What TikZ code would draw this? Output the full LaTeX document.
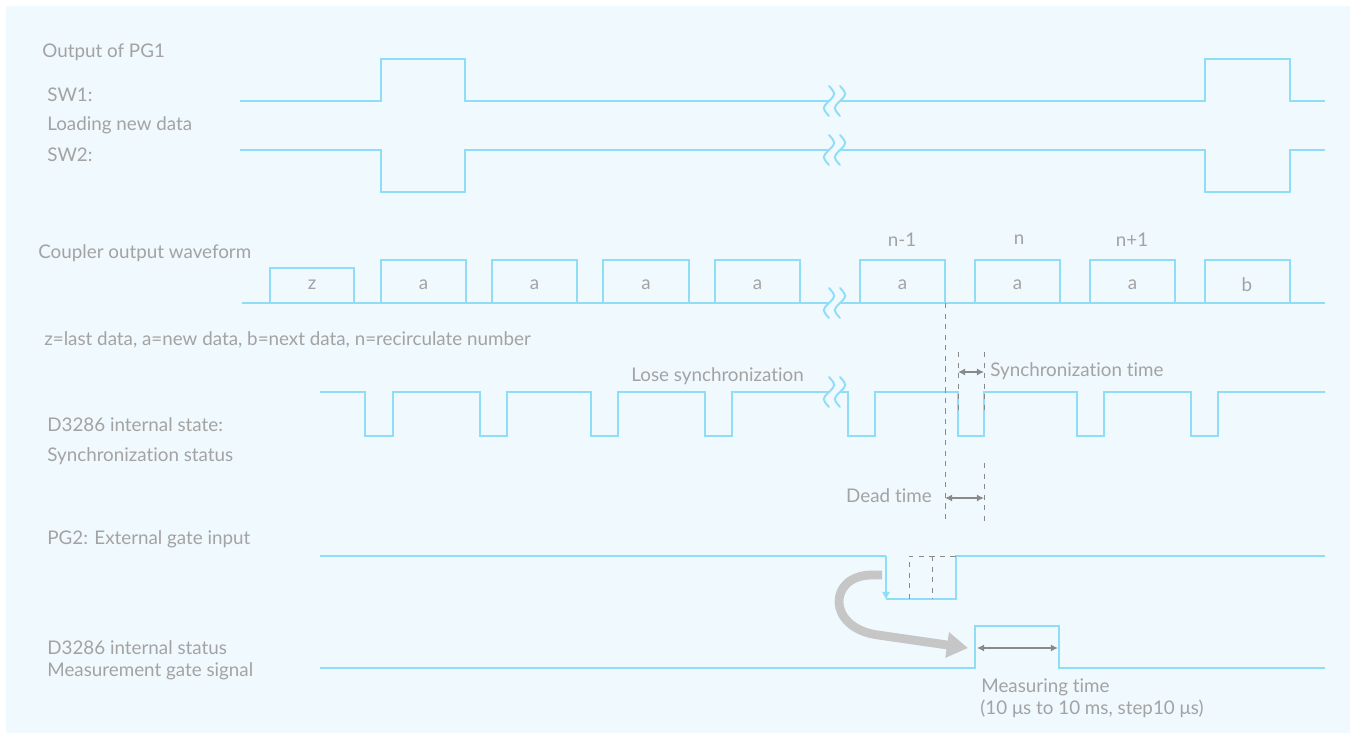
\documentclass[tikz,border=0pt]{standalone}
\usepackage{fontspec}
\setmainfont{Lato}[Ligatures=NoCommon]
\usetikzlibrary{arrows.meta}

\definecolor{sigblue}{HTML}{8FDDF7}
\definecolor{panel}{HTML}{F0F9FD}
\definecolor{lblgray}{HTML}{A3A3A3}
\definecolor{dimgray}{HTML}{8A8A8A}
\definecolor{bendgray}{HTML}{C6C6C6}

\tikzset{
  wave/.style={draw=sigblue, line width=1.1pt},
  lbl/.style={text=lblgray, font=\fontsize{10.7}{12}\selectfont, inner sep=0pt, anchor=west},
  guide/.style={draw=dimgray, line width=0.5pt, dash pattern=on 3pt off 3pt},
  span/.style={draw=dimgray, line width=1pt, {Latex[length=4pt,width=4pt]}-{Latex[length=4pt,width=4pt]}},
}

% break mark on a signal line
\newcommand{\squig}[2]{%
  \draw[wave, line cap=round] (#1,#2-15) .. controls (#1+7,#2-7) .. (#1,#2)
        .. controls (#1-7,#2+7) .. (#1,#2+15);}

\begin{document}
\begin{tikzpicture}[x=0.02cm, y=-0.02cm]
        \useasboundingbox (0,0) rectangle (1356,739);
        \fill[panel] (6,6) rectangle (1350,733);

        % labels on the left
        \node[lbl] (Out) at (42,52) {Output of PG1};
        \node[lbl] (SWa) at (47,95) {SW1:};
        \node[lbl] (Load) at (47,125) {Loading new data};
        \node[lbl] (SWb) at (47,155) {SW2:};
        \node[lbl] (Cpl) at (38,253) {Coupler output waveform};
        \node[lbl] (Key) at (44,340) {z=last data, a=new data, b=next data, n=recirculate number};
        \node[lbl] (St) at (47,425) {D3286 internal state:};
        \node[lbl] (Sync) at (47,456) {Synchronization status};
        \node[lbl] (PG) at (47,539) {PG2: External gate input};
        \node[lbl] (Int) at (47,648) {D3286 internal status};
        \node[lbl] (Gate) at (47,671) {Measurement gate signal};

        % SW1
        \draw[wave] (240,101) -- (381,101) -- (381,59) -- (465,59) -- (465,101) -- (829,101);
        \draw[wave] (840,101) -- (1205,101) -- (1205,59) -- (1290,59) -- (1290,101) -- (1325,101);
        \squig{829}{101} \squig{840}{101}

        % SW2
        \draw[wave] (240,150) -- (381,150) -- (381,192) -- (465,192) -- (465,150) -- (829,150);
        \draw[wave] (840,150) -- (1205,150) -- (1205,192) -- (1290,192) -- (1290,150) -- (1325,150);
        \squig{829}{150} \squig{840}{150}

        % coupler output
        \draw[wave] (242,303) -- (829,303);
        \draw[wave] (840,303) -- (1325,303);
        \draw[wave] (270,303) -- (270,268) -- (354,268) -- (354,303);
        \node[lbl, anchor=center] (Z) at (312,285) {z};
        \foreach \a/\b in {381/466, 492/577, 603/689, 715/800, 860/945, 975/1060, 1090/1175} {
            \draw[wave] (\a,303) -- (\a,260) -- (\b,260) -- (\b,303);
            \node[lbl, anchor=center] at ({(\a+\b)/2},285) {a};
        }
        \draw[wave] (1205,303) -- (1205,260) -- (1290,260) -- (1290,303);
        \node[lbl, anchor=center] (B) at (1247,285) {b};
        \squig{829}{303} \squig{840}{303}
        \node[lbl, anchor=center] (Nm) at (902,240) {n-1};
        \node[lbl, anchor=center] (N) at (1019,240) {n};
        \node[lbl, anchor=center] (Np) at (1132,240) {n+1};

        % synchronization status
        \draw[wave] (320,392) -- (365,392) -- (365,436) -- (393,436) -- (393,392)
            -- (480,392) -- (480,436) -- (507,436) -- (507,392)
            -- (591,392) -- (591,436) -- (618,436) -- (618,392)
            -- (705,392) -- (705,436) -- (732,436) -- (732,392) -- (829,392);
        \draw[wave] (840,392) -- (848,392) -- (848,436) -- (875,436) -- (875,392)
            -- (958,392) -- (958,436) -- (984,436) -- (984,392)
            -- (1077,392) -- (1077,436) -- (1104,436) -- (1104,392)
            -- (1191,392) -- (1191,436) -- (1218,436) -- (1218,392) -- (1325,392);
        \squig{829}{392} \squig{840}{392}
        \node[lbl] (Lose) at (631,376) {Lose synchronization};

        % dead time and synchronization time
        \draw[guide] (945,303) -- (945,522);
        \draw[guide] (958,352) -- (958,410);
        \draw[guide] (984,352) -- (984,410);
        \draw[guide] (984,463) -- (984,522);
        \coordinate (SyA) at (958,372);
        \coordinate (SyB) at (984,372);
        \draw[span] (SyA) -- (SyB);
        \node[lbl] (SyT) at (990,371) {Synchronization time};
        \coordinate (DdA) at (945,498);
        \coordinate (DdB) at (984,498);
        \draw[span] (DdA) -- (DdB);
        \node[lbl, anchor=east] (Dead) at (932,496) {Dead time};

        % PG2 gate input
        \draw[wave] (320,556) -- (886,556);
        \draw[wave, -{Triangle[length=4pt,width=4pt]}] (886,556) -- (886,599);
        \draw[wave] (886,599) -- (956,599) -- (956,556) -- (1325,556);
        \draw[guide] (909,599) -- (909,556) -- (956,556);
        \draw[guide] (932,556) -- (932,599);

        % measurement gate
        \draw[wave] (320,668) -- (975,668) -- (975,626) -- (1059,626) -- (1059,668) -- (1325,668);
        \coordinate (MsA) at (977,648);
        \coordinate (MsB) at (1058,648);
        \draw[span] (MsA) -- (MsB);
        \node[lbl] (Meas) at (981,687) {Measuring time};
        \node[lbl] (Rng) at (980,709) {(10 μs to 10 ms, step10 μs)};

        % trigger arrow
        \draw[bendgray, line width=5pt, -{Triangle[length=12pt,width=14pt]}]
            (882,575) -- (872,575) .. controls (828,575) and (826,628) .. (878,635) -- (968,648);
    \end{tikzpicture}
\end{document}
